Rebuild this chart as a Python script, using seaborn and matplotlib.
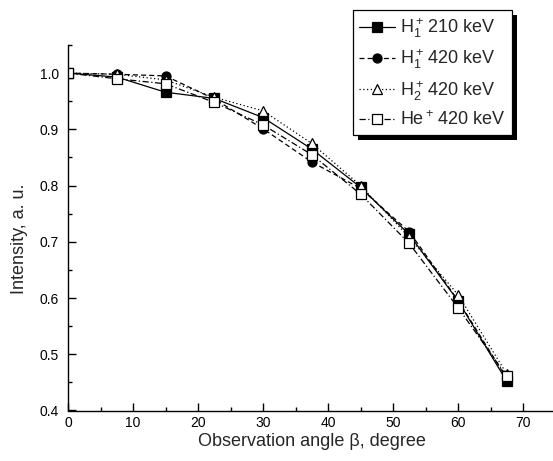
import matplotlib
matplotlib.use("Agg")
import matplotlib.pyplot as plt
from matplotlib.patches import Rectangle
from matplotlib.ticker import MultipleLocator
import seaborn as sns
import pandas as pd

# Observation angles (degrees) and normalised intensities per beam
angles = [0, 7.5, 15, 22.5, 30, 37.5, 45, 52.5, 60, 67.5]
h1_210 = [1.000, 0.993, 0.966, 0.955, 0.921, 0.865, 0.797, 0.713, 0.595, 0.452]
h1_420 = [1.000, 0.998, 0.995, 0.954, 0.901, 0.842, 0.795, 0.718, 0.596, 0.457]
h2_420 = [1.000, 0.998, 0.988, 0.957, 0.933, 0.875, 0.800, 0.708, 0.606, 0.465]
he_420 = [1.000, 0.990, 0.981, 0.948, 0.908, 0.855, 0.785, 0.697, 0.583, 0.461]

labels = [r"H$_1^+\,$210 keV", r"H$_1^+\,$420 keV", r"H$_2^+\,$420 keV", r"He$^+\,$420 keV"]
series = [h1_210, h1_420, h2_420, he_420]

sns.set_theme(style="ticks")
plt.rcParams["font.family"] = ["Liberation Sans", "DejaVu Sans"]
plt.rcParams["mathtext.fontset"] = "custom"
plt.rcParams["mathtext.rm"] = "Liberation Sans"
plt.rcParams["mathtext.it"] = "Liberation Sans"
plt.rcParams["mathtext.default"] = "rm"

fig = plt.figure(figsize=(5.53, 4.61), dpi=100)
ax = fig.add_axes([68 / 553, 50.5 / 461, 487.5 / 553, 365.5 / 461])

styles = [
    dict(marker="s", linestyle="-", markerfacecolor="black"),
    dict(marker="o", linestyle=(0, (4, 2.5)), markerfacecolor="black"),
    dict(marker="^", linestyle=(0, (1, 2)), markerfacecolor="white"),
    dict(marker="s", linestyle=(0, (5, 2, 1, 2)), markerfacecolor="white"),
]

for vals, lab, st in zip(series, labels, styles):
    df = pd.DataFrame({"angle": angles, "intensity": vals})
    sns.lineplot(data=df, x="angle", y="intensity", ax=ax, color="black",
                 linewidth=0.9, markersize=6.5, markeredgecolor="black",
                 markeredgewidth=0.9, label=lab, **st)

ax.set_xlim(0, 75)
ax.set_ylim(0.4, 1.05)
ax.xaxis.set_minor_locator(MultipleLocator(5))
ax.yaxis.set_minor_locator(MultipleLocator(0.05))
ax.set_xticks([0, 10, 20, 30, 40, 50, 60, 70])
ax.set_yticks([0.4, 0.5, 0.6, 0.7, 0.8, 0.9, 1.0])
ax.set_yticklabels(["0.4", "0.5", "0.6", "0.7", "0.8", "0.9", "1.0"])
ax.tick_params(which="both", direction="in", width=1.0, colors="black",
               labelsize=10)
ax.tick_params(axis="y", pad=6.5)
ax.tick_params(axis="x", pad=4.0)
ax.tick_params(which="major", length=6)
ax.tick_params(which="minor", length=3)
for side in ("top", "right"):
    ax.spines[side].set_visible(False)
for side in ("left", "bottom"):
    ax.spines[side].set_linewidth(1.0)
    ax.spines[side].set_color("black")

ax.set_xlabel("Observation angle β, degree", fontsize=13)
ax.set_ylabel("Intensity, a. u.", fontsize=13)
ax.xaxis.set_label_coords(0.5, -0.062)
ax.yaxis.set_label_coords(-0.082, 0.469)

leg = ax.legend(loc="upper left", bbox_to_anchor=(353 / 553, 1 - 10 / 461),
                bbox_transform=fig.transFigure, borderaxespad=0,
                frameon=True, fancybox=False, handlelength=2.0,
                handletextpad=0.25, labelspacing=0.42, borderpad=0.35,
                prop={"size": 13})
leg.get_frame().set_edgecolor("black")
leg.get_frame().set_linewidth(0.9)
leg.get_frame().set_alpha(1)
leg.set_zorder(10)

# solid drop shadow behind the legend box
fig.canvas.draw()
bb = leg.get_window_extent()
shadow = Rectangle((bb.x0 + 5, bb.y0 - 5), bb.width, bb.height,
                   transform=None, facecolor="black", edgecolor="none",
                   zorder=9, clip_on=False)
ax.add_artist(shadow)

fig.savefig("out.png", dpi=100)
